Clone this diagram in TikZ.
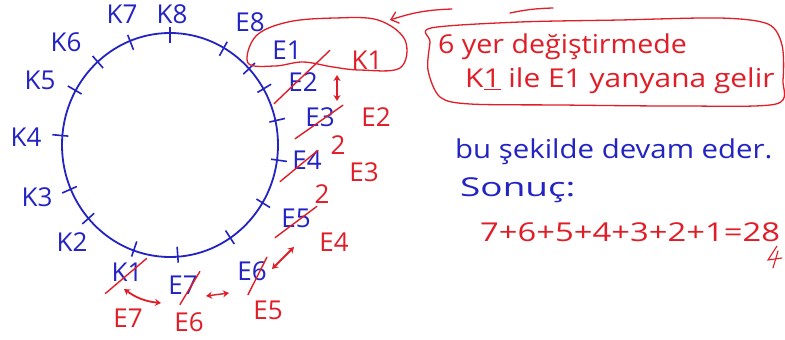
\documentclass[tikz,border=0pt]{standalone}
\usepackage{fontspec}
\setmainfont{Open Sans}
\usetikzlibrary{arrows.meta}
\definecolor{penblue}{RGB}{35,35,195}
\definecolor{penred}{RGB}{225,30,40}
\tikzset{
  lab/.style={text=penblue, font=\fontsize{26}{28}\selectfont, inner sep=0pt},
  redlab/.style={text=penred, font=\fontsize{26}{28}\selectfont, inner sep=0pt},
  note/.style={font=\fontsize{26}{28}\selectfont, inner sep=0pt, anchor=west},
  ringline/.style={draw=penblue, line width=1.8pt},
  tickmark/.style={draw=penblue, line width=1.6pt},
  strike/.style={draw=penred, line width=1.4pt, line cap=round},
  swaparrow/.style={draw=penred, line width=1.8pt, {Stealth[length=6pt,width=7pt]}-{Stealth[length=6pt,width=7pt]}},
  redstroke/.style={draw=penred, line width=1.3pt, line cap=round},
}
\begin{document}
\begin{tikzpicture}[x=1pt,y=-1pt]
\useasboundingbox (0,0) rectangle (785,340);
\fill[white] (0,0) rectangle (785,340);

% the ring of seats
\coordinate (c) at (170,145);
\draw[ringline] (c) ellipse[x radius=108, y radius=112];
\foreach \a in {90,61,44,31,13,-8,-32,-57,-86,-109,-138,-156,175,150,131,111}
  \draw[tickmark] (c) ++(-\a:102) -- ++(-\a:16);

% seat labels
\node[lab] (k8) at (172,14) {K8};
\node[lab] (k7) at (122,14) {K7};
\node[lab] (k6) at (66,42) {K6};
\node[lab] (k5) at (40,80) {K5};
\node[lab] (k4) at (26,137) {K4};
\node[lab] (k3) at (37,197) {K3};
\node[lab] (k2) at (72,242) {K2};
\node[lab] (k1) at (127,272) {K1};
\node[lab] (e7) at (183,285) {E7};
\node[lab] (e6) at (252,271) {E6};
\node[lab] (e5) at (296,218) {E5};
\node[lab] (e4) at (307,160) {E4};
\node[lab] (e3) at (320,117) {E3};
\node[lab] (e2) at (303,82) {E2};
\node[lab] (e1) at (287,50) {E1};
\node[lab] (e8) at (250,22) {E8};

% crossed-out seats
\draw[strike] ([shift={(-14,12)}]e2.south west) -- ([shift={(12,-22)}]e2.north east);
\draw[strike] ([shift={(-10,12)}]e3.south west) -- ([shift={(8,-2)}]e3.north east);
\draw[strike] ([shift={(-12,12)}]e4.south west) -- ([shift={(-4,0)}]e4.north east);
\draw[strike] ([shift={(-6,10)}]e5.south west) -- ([shift={(6,-2)}]e5.north east);
\draw[strike] ([shift={(-4,14)}]e6.south) -- ([shift={(0,-4)}]e6.north east);
\draw[strike] ([shift={(-3,10)}]e7.south) -- ([shift={(2,-4)}]e7.north east);
\draw[strike] ([shift={(-6,12)}]k1.south west) -- ([shift={(4,-4)}]k1.north east);

% new positions
\node[redlab] (r-k1) at (367,60) {K1};
\node[redlab] (r-e2) at (376,117) {E2};
\node[redlab] (r-e3) at (364,172) {E3};
\node[redlab] (r-e4) at (334,242) {E4};
\node[redlab] (r-e5) at (268,310) {E5};
\node[redlab] (r-e6) at (189,322) {E6};
\node[redlab] (r-e7) at (128,318) {E7};
\node[redlab] (two-a) at (338,145) {2};
\node[redlab] (two-b) at (322,194) {2};

% swaps
\coordinate (s1a) at (337,75);  \coordinate (s1b) at (337,101);
\coordinate (s2a) at (272,269); \coordinate (s2b) at (294,247);
\coordinate (s3a) at (206,296); \coordinate (s3b) at (229,293);
\coordinate (s4a) at (124,289); \coordinate (s4b) at (161,303);
\draw[swaparrow] (s1a) -- (s1b);
\draw[swaparrow] (s2a) -- (s2b);
\draw[swaparrow, line width=1.4pt] (s3a) -- (s3b);
\draw[swaparrow] (s4a) to[bend right=15] (s4b);

% loop round E1 and K1
\draw[redstroke] plot[smooth cycle, tension=0.6] coordinates {
  (248,63) (256,36) (288,22) (335,18) (378,20) (405,40) (400,68) (360,70) (333,67) (303,62) (275,66)};

% explanation box
\draw[redstroke] plot[smooth cycle, tension=0.5] coordinates {
  (431,28) (520,22) (620,20) (720,18) (768,24) (782,45) (783,80) (776,104)
  (680,106) (560,105) (470,104) (440,97) (428,70) (430,42)};
\node[note, text=penred] (box-a) at (438,47) {\scalebox{1.1}[1]{6 yer değiştirmede}};
\node[note, text=penred] (box-b) at (465,81) {\scalebox{1.15}[1]{K\underline{1} ile E1 yanyana gelir}};
\coordinate (arrowtail) at (452,9);
\coordinate (arrowhead) at (390,20);
\draw[redstroke, -{Straight Barb[length=7pt,width=12pt]}] (arrowtail) to[bend right=8] (arrowhead);
\draw[redstroke] (510,13) to[bend left=5] (553,8);

% conclusion
\node[note, text=penblue] (cont) at (455,152) {\scalebox{1.13}[1]{bu şekilde devam eder.}};
\node[note, text=penblue] (sonuc) at (460,190) {\scalebox{1.42}[1]{Sonuç:}};
\node[note, text=penred] (sum) at (480,232) {\scalebox{1.26}[1]{7+6+5+4+3+2+1=28}};
\draw[redstroke, line width=1.1pt] (777,246) -- (768,260) -- (782,258) (778,251) -- (773,268);
\end{tikzpicture}
\end{document}
